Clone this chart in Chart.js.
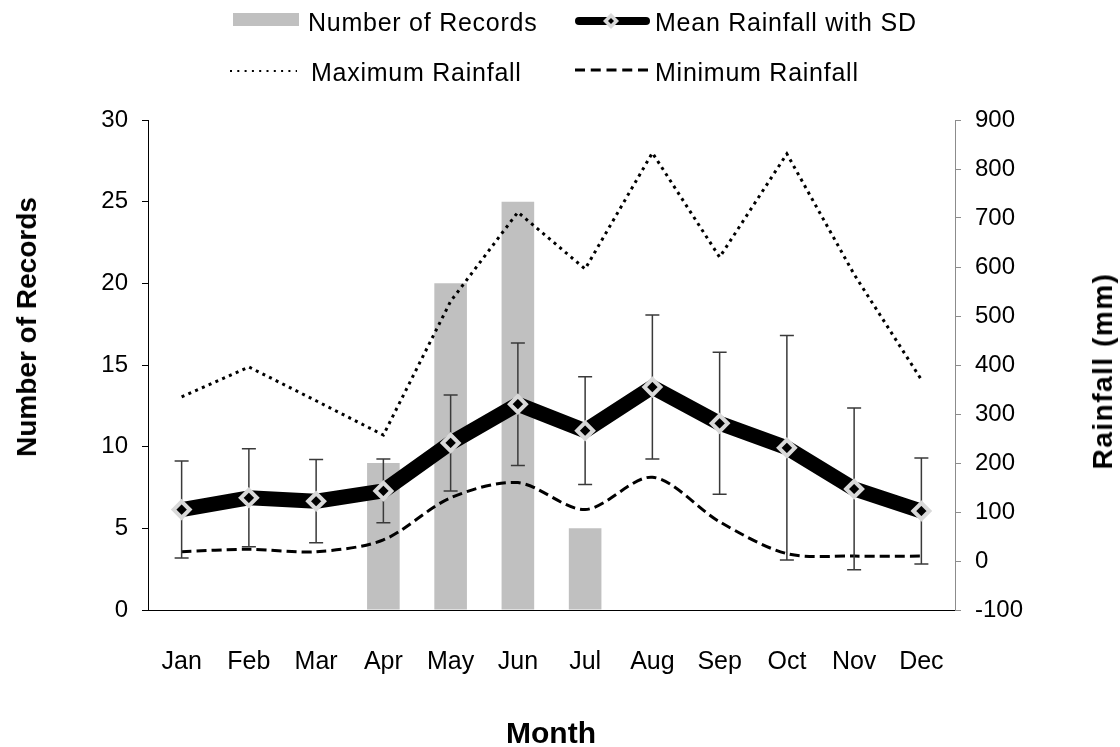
<!DOCTYPE html>
<html lang="en">
<head>
    <meta charset="UTF-8">
    <title>Monthly Rainfall</title>
    <script src="https://cdn.jsdelivr.net/npm/chart.js"></script>
    <style>
        body {
            margin: 0;
            padding: 0;
            background: #fff;
            font-family: "Liberation Sans", Arial, sans-serif;
        }
        .wrap {
            position: relative;
            width: 1120px;
            height: 747px;
            overflow: hidden;
        }
        canvas {
            position: absolute;
            left: 0;
            top: 0;
        }
        .txt {
            position: absolute;
            white-space: nowrap;
            color: #000;
            line-height: 1;
        }
        .legend-text {
            font-size: 25px;
            letter-spacing: 0.75px;
        }
        .axis-title {
            font-weight: bold;
            font-size: 28px;
        }
        svg.legend {
            position: absolute;
            left: 0;
            top: 0;
        }
    </style>
</head>
<body>
    <div class="wrap">
        <canvas id="rainChart" width="1120" height="747"></canvas>

        <svg class="legend" width="1120" height="100">
            <rect x="233" y="13" width="66" height="13" fill="#c0c0c0"></rect>
            <line x1="579" y1="21" x2="646" y2="21" stroke="#000" stroke-width="8" stroke-linecap="round"></line>
            <polygon points="611,13 619,21 611,29 603,21" fill="#d9d9d9"></polygon>
            <polygon points="611,18 614,21 611,24 608,21" fill="#000"></polygon>
            <line x1="230" y1="71" x2="297" y2="71" stroke="#000" stroke-width="2" stroke-dasharray="2,5.3"></line>
            <line x1="575" y1="70" x2="648" y2="70" stroke="#000" stroke-width="3" stroke-dasharray="10,5.75"></line>
        </svg>

        <div class="txt legend-text" style="left:308px; top:10px;">Number of Records</div>
        <div class="txt legend-text" style="left:655px; top:10px;">Mean Rainfall with SD</div>
        <div class="txt legend-text" style="left:311px; top:60px;">Maximum Rainfall</div>
        <div class="txt legend-text" style="left:655px; top:60px;">Minimum Rainfall</div>

        <div class="txt axis-title" style="left:27px; top:327px; transform: translate(-50%, -50%) rotate(-90deg);">Number of Records</div>
        <div class="txt axis-title" style="left:1103px; top:371px; letter-spacing:1.5px; transform: translate(-50%, -50%) rotate(-90deg);">Rainfall (mm)</div>
        <div class="txt axis-title" style="left:551px; top:718px; font-size:30px; transform: translateX(-50%);">Month</div>
    </div>

    <script>
        const months = ['Jan', 'Feb', 'Mar', 'Apr', 'May', 'Jun', 'Jul', 'Aug', 'Sep', 'Oct', 'Nov', 'Dec'];
        const recordCount = [0, 0, 0, 9, 20, 25, 5, 0, 0, 0, 0, 0];
        const meanRain = [105, 129, 122, 143, 241, 320, 266, 355, 281, 231, 147, 102];
        const sdRain = [99, 100, 85, 65, 98, 125, 110, 147, 145, 229, 165, 108];
        const maxRain = [335, 396, 327, 257, 530, 712, 596, 833, 620, 831, 585, 370];
        const minRain = [19, 24, 19, 43, 129, 160, 105, 171, 80, 15, 10, 10];

        const fontFamily = '"Liberation Sans", Arial, sans-serif';

        // error bars for the mean series, drawn just before the mean line
        const errorBars = {
            id: 'errorBars',
            beforeDatasetDraw(chart, args) {
                if (args.index !== 1) return;
                const xs = chart.scales.x;
                const ys = chart.scales.yRain;
                const ctx = chart.ctx;
                ctx.save();
                ctx.strokeStyle = '#3a3a3a';
                ctx.lineWidth = 1.5;
                meanRain.forEach((m, i) => {
                    const px = xs.getPixelForValue(i);
                    const top = ys.getPixelForValue(m + sdRain[i]);
                    const bot = ys.getPixelForValue(m - sdRain[i]);
                    ctx.beginPath();
                    ctx.moveTo(px, top);
                    ctx.lineTo(px, bot);
                    ctx.moveTo(px - 7, top);
                    ctx.lineTo(px + 7, top);
                    ctx.moveTo(px - 7, bot);
                    ctx.lineTo(px + 7, bot);
                    ctx.stroke();
                });
                ctx.restore();
            }
        };

        new Chart(document.getElementById('rainChart'), {
            data: {
                labels: months,
                datasets: [{
                    type: 'bar',
                    label: 'Number of Records',
                    data: recordCount,
                    yAxisID: 'yCount',
                    backgroundColor: '#c0c0c0',
                    categoryPercentage: 1,
                    barPercentage: 0.485,
                    order: 4
                }, {
                    type: 'line',
                    label: 'Mean Rainfall with SD',
                    data: meanRain,
                    yAxisID: 'yRain',
                    borderColor: '#000',
                    borderWidth: 15,
                    borderJoinStyle: 'round',
                    tension: 0,
                    pointStyle: 'rectRot',
                    pointRadius: 8,
                    pointBorderWidth: 4,
                    pointBackgroundColor: '#000',
                    pointBorderColor: '#d9d9d9',
                    order: 1
                }, {
                    type: 'line',
                    label: 'Maximum Rainfall',
                    data: maxRain,
                    yAxisID: 'yRain',
                    borderColor: '#000',
                    borderWidth: 3,
                    borderDash: [3, 4.4],
                    tension: 0,
                    pointRadius: 0,
                    order: 3
                }, {
                    type: 'line',
                    label: 'Minimum Rainfall',
                    data: minRain,
                    yAxisID: 'yRain',
                    borderColor: '#000',
                    borderWidth: 3,
                    borderDash: [10, 5],
                    tension: 0.3,
                    pointRadius: 0,
                    order: 2
                }]
            },
            options: {
                responsive: false,
                animation: false,
                events: [],
                layout: { padding: { top: 120, left: 0, right: 0, bottom: 0 } },
                plugins: {
                    legend: { display: false },
                    tooltip: { enabled: false }
                },
                scales: {
                    x: {
                        type: 'category',
                        offset: true,
                        grid: { display: true, drawOnChartArea: false, drawTicks: false },
                        border: { color: '#000', width: 1 },
                        ticks: {
                            color: '#000',
                            padding: 37,
                            font: { family: fontFamily, size: 25 }
                        },
                        afterFit(scale) { scale.height = 137; }
                    },
                    yCount: {
                        position: 'left',
                        min: 0,
                        max: 30,
                        ticks: {
                            stepSize: 5,
                            color: '#000',
                            padding: 14,
                            font: { family: fontFamily, size: 24 }
                        },
                        grid: { drawOnChartArea: false, drawTicks: true, tickLength: 6, color: '#000' },
                        border: { color: '#000', width: 1 },
                        afterFit(scale) { scale.width = 148; }
                    },
                    yRain: {
                        position: 'right',
                        min: -100,
                        max: 900,
                        ticks: {
                            stepSize: 100,
                            color: '#000',
                            padding: 14,
                            font: { family: fontFamily, size: 24 }
                        },
                        grid: { drawOnChartArea: false, drawTicks: true, tickLength: 6, color: '#8c8c8c' },
                        border: { color: '#8c8c8c', width: 1 },
                        afterFit(scale) { scale.width = 165; }
                    }
                }
            },
            plugins: [errorBars]
        });
    </script>
</body>
</html>
